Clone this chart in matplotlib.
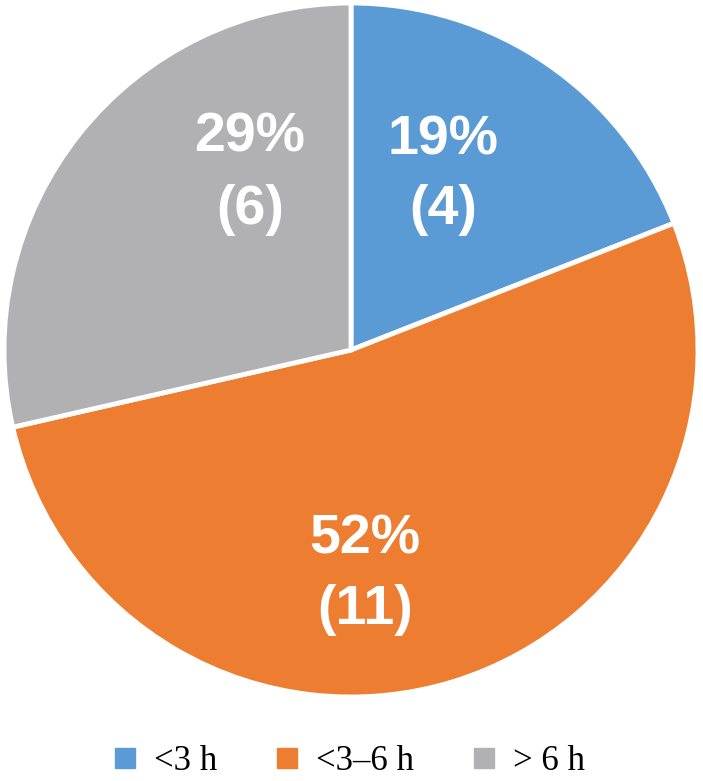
import matplotlib.pyplot as plt
from matplotlib.lines import Line2D

categories = ["<3 h", "<3\u20136 h", "> 6 h"]
counts = [4, 11, 6]
percents = ["19%", "52%", "29%"]
colors = ["#5B9BD5", "#ED7D31", "#B1B1B3"]

W, H = 703, 781
fig = plt.figure(figsize=(W / 100, H / 100), dpi=100)
cx, cy, r = 351, 350, 347
ax = fig.add_axes([(cx - r) / W, (H - cy - r) / H, 2 * r / W, 2 * r / H])

ax.pie(counts, colors=colors, startangle=90, counterclock=False,
       wedgeprops=dict(edgecolor="white", linewidth=3.5))
ax.set_xlim(-1, 1)
ax.set_ylim(-1, 1)
ax.set_aspect("equal")

# label positions in pixels (centre of each text line)
label_px = [(443, 140, 210), (365, 540, 610), (250, 137, 210)]
for (px, py1, py2), pct, n in zip(label_px, percents, counts):
    x = (px - cx) / r
    ax.text(x, (cy - py1) / r, pct, ha="center", va="center", color="white",
            fontsize=40, fontweight="bold", family="Liberation Sans")
    ax.text(x, (cy - py2) / r, f"({n})", ha="center", va="center", color="white",
            fontsize=40, fontweight="bold", family="Liberation Sans")

handles = [Line2D([0], [0], marker="s", linestyle="none", markersize=15,
                  markerfacecolor=c, markeredgecolor=c) for c in colors]
fig.legend(handles, categories, loc="center", bbox_to_anchor=(0.495, 1 - 762 / H),
           ncol=3, frameon=False, handlelength=0.8, handletextpad=0.45,
           columnspacing=1.6, borderpad=0.1,
           prop={"family": "Liberation Serif", "size": 25})

fig.savefig("out.png", dpi=100)
